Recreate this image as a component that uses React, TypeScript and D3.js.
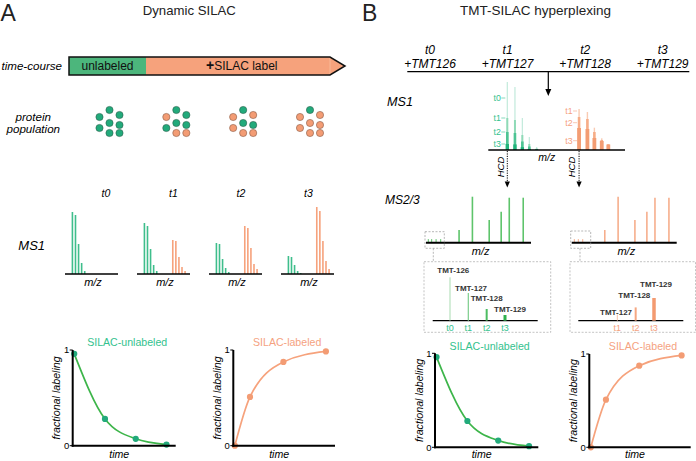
import React from "react";
import * as d3 from "d3";

// ---------------- DATA ----------------
const timePoints = ["t0", "t1", "t2", "t3"];
const tmtTags = ["+TMT126", "+TMT127", "+TMT128", "+TMT129"];
const reporterLabels = ["TMT-126", "TMT-127", "TMT-128", "TMT-129"];
const reporterChannels = [126, 127, 128, 129];

// time-course phases (fraction of the time-course bar)
const phaseNames = ["unlabeled", "SILAC label"];
const phaseBreaks = [0, 0.279, 1];

// protein population: g = unlabeled, o = SILAC labeled (8 proteins per time point)
const populations = ["gggggggg", "goggggoo", "googogoo", "gooooooo"];

// Panel A MS1 spectra (m/z in % of axis, intensity in arbitrary units)
const ms1MzUnlabeled = [14, 19.8, 25.6, 31.4, 37.2];
const ms1MzLabeled = [67.5, 73.3, 79.1, 84.9, 90.7];
const ms1Unlabeled = [
  [62, 59, 30, 11, 3],
  [51, 48, 25, 9, 3],
  [31, 30, 15, 6, 2],
  [18, 17, 9, 3, 1],
];
const ms1Labeled = [
  [0, 0, 0, 0, 0],
  [34, 33, 17, 7, 3],
  [48, 46, 26, 10, 5],
  [67, 63, 33, 13, 5],
];

// Panel B hyperplexed MS1
const hyperMzUnlabeled = [13.9, 19.5, 24.9, 30, 35.4];
const hyperMzLabeled = [66.4, 72.5, 77.6, 83, 87.8];
const hyperUnlabeled = [
  [68, 63, 32, 13, 3],
  [32, 30, 15, 6, 1.5],
  [18, 17, 8.5, 3.5, 1],
  [6, 5.6, 2.8, 1.1, 0.4],
];
const hyperLabeled = [
  [41, 38, 22.3, 11.7, 5.7],
  [33, 31, 18, 10, 5.7],
  [22, 21, 12, 9, 5.5],
];
const hyperUnlabeledTicks = [52, 32, 18, 6];
const hyperLabeledTicks = [39, 27.3, 9.3];
const hyperLabeledTimes = ["t1", "t2", "t3"];

// MS2/3 spectra
const ms2Mz = [31.5, 44.2, 60.2, 71.6, 79.3, 92.6];
const ms2Intensity = [12.7, 46, 22.7, 31, 45, 45];
const ms2ReporterMzUnlabeled = [2.2, 5.4, 9.6, 14];
const ms2ReporterMzLabeled = [2.5, 6.3, 10.5];
const ms2ReporterIntensity = [3.6, 3.6, 3.6, 3.6];

// reporter ion zoom
const reporterUnlabeled = [43.4, 27.7, 11.7, 5.7]; // TMT126..129
const reporterLabeled = [6.3, 13.3, 22.7]; // TMT127..129

// kinetics
const kineticTimesUnlabeled = [0, 1, 2, 3];
const kineticUnlabeled = [0.96, 0.28, 0.072, 0.012];
const kineticTimesLabeled = [0, 0.5, 1.6, 3];
const kineticLabeled = [0, 0.51, 0.875, 0.985];

// ---------------- STYLE ----------------
const FONT = "'Liberation Sans', Arial, Helvetica, sans-serif";
const GREEN_BAR = "#3fbe8c";
const GREEN_DOT = "#22aa7b";
const ORANGE = "#f6a27c";
const ORANGE_DOT = "#f39c74";
const GREEN_TEXT = "#33c28e";
const ORANGE_TEXT = "#f5a27f";
const GREEN_CURVE = "#3db54a";
const GREEN_MS2 = "#5ec46b";
const ORANGE_MS2 = "#f6ae8c";
const GREEN_LAYERS = ["#c2eadb", "#8fdab7", "#4dc494", "#20b47b"];
const GREEN_LAYER_W = [1.2, 2, 2.6, 3.4];
const ORANGE_LAYERS = ["#f9cbb3", "#f6ad88", "#f39d74"];
const ORANGE_LAYER_W = [1.4, 2.6, 3.8];
const GREEN_REP = ["#a9dcb2", "#86d194", "#4dbd62", "#2fb04f"];
const GREEN_REP_W = [1, 1.3, 2, 3];
const ORANGE_REP = ["#f7c3aa", "#f5a883", "#f39a70"];
const ORANGE_REP_W = [1, 2, 3.5];

const dotOffsets = [
  [0, -12], [-10, -5], [10, -7], [0, 1], [-10, 6], [10, 3], [0, 11], [10, 11],
];

function Kinetic(props: {
  x0: number; y0: number; w: number; h: number;
  times: number[]; values: number[]; line: string; dot: string;
  title: string; titleColor: string;
}) {
  const { x0, y0, w, h, times, values, line, dot, title, titleColor } = props;
  const x = d3.scaleLinear().domain([-0.05, 3.3]).range([x0, x0 + w]);
  const y = d3.scaleLinear().domain([0, 1]).range([y0, y0 - h]);
  const pts: [number, number][] = values.map((v, i) => [x(times[i]), y(v)]);
  const path = d3.line().curve(d3.curveMonotoneX)(pts) || "";
  return (
    <g>
      <path d={path} fill="none" stroke={line} strokeWidth={1.7} />
      {pts.map((p, i) => (
        <circle key={i} cx={p[0]} cy={p[1]} r={3.1} fill={dot} />
      ))}
      <line x1={x0} y1={y(1)} x2={x0} y2={y0 + 1} stroke="#000" strokeWidth={2} />
      <line x1={x0 - 1} y1={y0} x2={x0 + w} y2={y0} stroke="#000" strokeWidth={2} />
      {[0, 1].map((v) => (
        <g key={v}>
          <line x1={x0 - 3} x2={x0} y1={y(v)} y2={y(v)} stroke="#000" strokeWidth={1} />
          <text x={x0 - 3.5} y={y(v)} dy="0.35em" textAnchor="end" fontSize={9.5} fill="#000">{v}</text>
        </g>
      ))}
      <text x={x0 + w / 2 + 3} y={y0 - h - 7.5} dy="0.35em" textAnchor="middle" fontSize={10.6} fill={titleColor}>{title}</text>
      <text transform={`translate(${x0 - 16},${y0 - h / 2}) rotate(-90)`} dy="0.35em" textAnchor="middle" fontSize={10.7} fontStyle="italic">fractional labeling</text>
      <text x={x0 + w / 2 - 5} y={Math.min(y0 + 9.5, 454.5)} dy="0.35em" textAnchor="middle" fontSize={10.6} fontStyle="italic">time</text>
    </g>
  );
}

function PanelA() {
  const tc = d3.scaleLinear().domain([0, 1]).range([69, 345]);
  const tcTop = 57, tcBot = 75, tip = 15;
  const tcMid = (tcTop + tcBot) / 2;
  const cluster = d3.scaleLinear().domain([0, 3]).range([109.5, 310]);
  const spec = d3.scaleLinear().domain([0, 3]).range([65, 281]);
  const tLab = d3.scaleLinear().domain([0, 3]).range([106, 308.5]);
  const specW = 53;
  const yMs = d3.scaleLinear().domain([0, 70]).range([274, 204]);

  return (
    <g>
      <text x={0.5} y={21} fontSize={23} fill="#222">A</text>
      <text x={189.3} y={15} textAnchor="middle" fontSize={13.2} fill="#222">Dynamic SILAC</text>

      {/* time-course bar */}
      <text x={62} y={tcMid} dy="0.35em" textAnchor="end" fontSize={11.6} fontStyle="italic">time-course</text>
      <polygon
        points={`${tc(0)},${tcTop} ${tc(1) - tip},${tcTop} ${tc(1)},${tcMid} ${tc(1) - tip},${tcBot} ${tc(0)},${tcBot}`}
        fill={ORANGE}
      />
      <rect x={tc(phaseBreaks[0])} y={tcTop} width={tc(phaseBreaks[1]) - tc(phaseBreaks[0])} height={tcBot - tcTop} fill="#4cb67c" />
      <line x1={tc(1) - tip} x2={tc(1) - tip} y1={tcTop + 1} y2={tcBot - 1} stroke="#f8b896" strokeWidth={1} />
      <polygon
        points={`${tc(0)},${tcTop} ${tc(1) - tip},${tcTop} ${tc(1)},${tcMid} ${tc(1) - tip},${tcBot} ${tc(0)},${tcBot}`}
        fill="none" stroke="#111" strokeWidth={1.5}
      />
      <text x={(tc(phaseBreaks[0]) + tc(phaseBreaks[1])) / 2} y={tcMid} dy="0.36em" textAnchor="middle" fontSize={12} fill="#111">{phaseNames[0]}</text>
      <text x={(tc(phaseBreaks[1]) + tc(phaseBreaks[2]) - tip / 2) / 2} y={tcMid} dy="0.36em" textAnchor="middle" fontSize={12} fill="#111">
        <tspan fontWeight="bold" fontSize={14}>+</tspan>{phaseNames[1]}
      </text>

      {/* protein population */}
      <text x={33.3} y={117.3} dy="0.35em" textAnchor="middle" fontSize={11.6} fontStyle="italic">protein</text>
      <text x={33.3} y={128.8} dy="0.35em" textAnchor="middle" fontSize={11.6} fontStyle="italic">population</text>
      {populations.map((pop, ci) => (
        <g key={ci}>
          {pop.split("").map((s, di) => (
            <circle key={di} cx={cluster(ci) + dotOffsets[di][0]} cy={122 + dotOffsets[di][1]} r={3.6}
              fill={s === "g" ? GREEN_DOT : ORANGE_DOT} stroke={s === "g" ? "#2a5f4c" : "#8a5a44"} strokeWidth={0.6} />
          ))}
        </g>
      ))}

      {/* MS1 spectra */}
      <text x={18.3} y={245} dy="0.35em" fontSize={13} fontStyle="italic">MS1</text>
      {timePoints.map((t, i) => {
        const x0 = spec(i);
        const mz = d3.scaleLinear().domain([0, 100]).range([x0, x0 + specW]);
        return (
          <g key={t}>
            <text x={tLab(i)} y={193} dy="0.35em" textAnchor="middle" fontSize={10.5} fontStyle="italic">{t}</text>
            {ms1Unlabeled[i].map((v, k) => v > 0 && (
              <rect key={"g" + k} x={mz(ms1MzUnlabeled[k]) - 0.8} y={yMs(v)} width={1.6} height={yMs(0) - yMs(v)} fill={GREEN_BAR} />
            ))}
            {ms1Labeled[i].map((v, k) => v > 0 && (
              <rect key={"o" + k} x={mz(ms1MzLabeled[k]) - 0.8} y={yMs(v)} width={1.6} height={yMs(0) - yMs(v)} fill={ORANGE} />
            ))}
            <line x1={x0} x2={x0 + specW} y1={yMs(0)} y2={yMs(0)} stroke="#000" strokeWidth={1.6} />
            <text x={x0 + specW / 2 + 1.5} y={282.5} dy="0.35em" textAnchor="middle" fontSize={11} fontStyle="italic">m/z</text>
          </g>
        );
      })}

      <Kinetic x0={72.7} y0={445.7} w={103} h={95.7} times={kineticTimesUnlabeled} values={kineticUnlabeled}
        line={GREEN_CURVE} dot={GREEN_DOT} title="SILAC-unlabeled" titleColor={GREEN_TEXT} />
      <Kinetic x0={233.3} y0={445.7} w={101.7} h={95.7} times={kineticTimesLabeled} values={kineticLabeled}
        line={ORANGE} dot={ORANGE_DOT} title="SILAC-labeled" titleColor={ORANGE_TEXT} />
    </g>
  );
}

function PanelB() {
  const tl = d3.scaleLinear().domain([0, 3]).range([430, 662.7]);
  const tlX0 = 407.3, tlX1 = 689.3, tlY = 71.7;
  const arrowX = (tlX0 + tlX1) / 2;

  // hyperplexed MS1
  const hx = d3.scaleLinear().domain([0, 100]).range([488.3, 625]);
  const hy = d3.scaleLinear().domain([0, 70]).range([150, 80]);

  // MS2
  const ms2Y = d3.scaleLinear().domain([0, 50]).range([242.7, 192.7]);
  const ms2Defs = [
    { x0: 426, color: GREEN_MS2, rep: ms2ReporterMzUnlabeled, box: [425, 231.7, 444.3, 248.3], conn: 433.3 },
    { x0: 571.7, color: ORANGE_MS2, rep: ms2ReporterMzLabeled, box: [570.7, 231, 590.7, 248.3], conn: 580 },
  ];

  // reporter zoom boxes
  const repY = d3.scaleLinear().domain([0, 50]).range([320.7, 270.7]);
  const gRep = d3.scaleLinear().domain([126, 129]).range([450, 505]);
  const oRep = d3.scaleLinear().domain([126, 129]).range([599, 654]);
  const gLabelDx = [-12.7, -13.3, -16, -11];
  const gLabelDy = [-7.3, -5, -10.5, -6];
  const oLabelDx = [-17.3, -17.4, -14];
  const oLabelDy = [-1.8, -12.4, -13.7];

  return (
    <g>
      <text x={362} y={21} fontSize={23} fill="#222">B</text>
      <text x={535.5} y={15} textAnchor="middle" fontSize={13.5} fill="#222">TMT-SILAC hyperplexing</text>

      {/* timeline */}
      {timePoints.map((t, i) => (
        <g key={t}>
          <text x={tl(i)} y={50} dy="0.35em" textAnchor="middle" fontSize={12} fontStyle="italic">{t}</text>
          <text x={tl(i)} y={63.3} dy="0.35em" textAnchor="middle" fontSize={12} fontStyle="italic">{tmtTags[i]}</text>
        </g>
      ))}
      <line x1={tlX0} x2={tlX1} y1={tlY} y2={tlY} stroke="#000" strokeWidth={1.3} />
      <line x1={arrowX} x2={arrowX} y1={tlY} y2={90} stroke="#000" strokeWidth={1.2} />
      <polygon points={`${arrowX - 3},${89} ${arrowX + 3},${89} ${arrowX},${96}`} fill="#000" />

      {/* MS1 hyperplexed */}
      <text x={387} y={101.7} dy="0.35em" fontSize={12.6} fontStyle="italic">MS1</text>
      {hyperUnlabeled.map((layer, li) => (
        <g key={"hg" + li}>
          {layer.map((v, k) => (
            <rect key={k} x={hx(hyperMzUnlabeled[k]) - GREEN_LAYER_W[li] / 2} y={hy(v)} width={GREEN_LAYER_W[li]} height={hy(0) - hy(v)} fill={GREEN_LAYERS[li]} />
          ))}
        </g>
      ))}
      {hyperLabeled.map((layer, li) => (
        <g key={"ho" + li}>
          {layer.map((v, k) => (
            <rect key={k} x={hx(hyperMzLabeled[k]) - ORANGE_LAYER_W[li] / 2} y={hy(v)} width={ORANGE_LAYER_W[li]} height={hy(0) - hy(v)} fill={ORANGE_LAYERS[li]} />
          ))}
        </g>
      ))}
      {timePoints.map((t, i) => {
        const px = hx(hyperMzUnlabeled[0]);
        return (
          <g key={"gl" + t}>
            <line x1={px - 6} x2={px - 2} y1={hy(hyperUnlabeledTicks[i])} y2={hy(hyperUnlabeledTicks[i])} stroke={GREEN_TEXT} strokeWidth={0.6} />
            <text x={px - 6.5} y={hy(hyperUnlabeledTicks[i])} dy="0.35em" textAnchor="end" fontSize={8.8} fill={GREEN_TEXT}>{t}</text>
          </g>
        );
      })}
      {hyperLabeledTimes.map((t, i) => {
        const px = hx(hyperMzLabeled[0]);
        return (
          <g key={"ol" + t}>
            <line x1={px - 6} x2={px - 2} y1={hy(hyperLabeledTicks[i])} y2={hy(hyperLabeledTicks[i])} stroke={ORANGE_TEXT} strokeWidth={0.6} />
            <text x={px - 6.5} y={hy(hyperLabeledTicks[i])} dy="0.35em" textAnchor="end" fontSize={8.8} fill={ORANGE_TEXT}>{t}</text>
          </g>
        );
      })}
      <line x1={hx(0)} x2={hx(100)} y1={hy(0)} y2={hy(0)} stroke="#000" strokeWidth={1.6} />
      <text x={546.7} y={157} dy="0.35em" textAnchor="middle" fontSize={10.5} fontStyle="italic">m/z</text>
      {[hx(hyperMzUnlabeled[0]), hx(hyperMzLabeled[0])].map((px, i) => (
        <g key={"hcd" + i}>
          <line x1={px} x2={px} y1={151} y2={182} stroke="#000" strokeWidth={1} strokeDasharray="1.2,1.2" />
          <polygon points={`${px - 2.6},${181.5} ${px + 2.6},${181.5} ${px},${187.5}`} fill="#000" />
          <text transform={`translate(${px - 7},${167}) rotate(-90)`} dy="0.35em" textAnchor="middle" fontSize={9.5} fontStyle="italic">HCD</text>
        </g>
      ))}

      {/* MS2/3 */}
      <text x={385} y={199.3} dy="0.35em" fontSize={12} fontStyle="italic">MS2/3</text>
      {ms2Defs.map((d, si) => {
        const mz = d3.scaleLinear().domain([0, 100]).range([d.x0, d.x0 + 105]);
        return (
          <g key={"ms2" + si}>
            {ms2Mz.map((m, k) => (
              <line key={k} x1={mz(m)} x2={mz(m)} y1={ms2Y(0)} y2={ms2Y(ms2Intensity[k])} stroke={d.color} strokeWidth={1.6} />
            ))}
            {d.rep.map((m, k) => (
              <line key={"r" + k} x1={mz(m)} x2={mz(m)} y1={ms2Y(0)} y2={ms2Y(ms2ReporterIntensity[k])} stroke={d.color} strokeWidth={1} />
            ))}
            <line x1={mz(0)} x2={mz(100)} y1={ms2Y(0)} y2={ms2Y(0)} stroke="#000" strokeWidth={2} />
            <text x={mz(52)} y={251} dy="0.35em" textAnchor="middle" fontSize={11} fontStyle="italic">m/z</text>
            <rect x={d.box[0]} y={d.box[1]} width={d.box[2] - d.box[0]} height={d.box[3] - d.box[1]} fill="none" stroke="#999" strokeWidth={0.7} strokeDasharray="2,1.5" />
            <line x1={d.conn} x2={d.conn} y1={d.box[3]} y2={261.7} stroke="#999" strokeWidth={0.7} strokeDasharray="2,1.5" />
          </g>
        );
      })}

      {/* reporter zoom boxes */}
      <rect x={424} y={261.7} width={126.7} height={70.6} fill="none" stroke="#aaa" strokeWidth={0.7} strokeDasharray="2,1.5" />
      <rect x={570} y={261.7} width={125.5} height={70.6} fill="none" stroke="#aaa" strokeWidth={0.7} strokeDasharray="2,1.5" />
      <line x1={432.7} x2={537.7} y1={repY(0)} y2={repY(0)} stroke="#000" strokeWidth={1.2} />
      <line x1={578.3} x2={683.3} y1={repY(0)} y2={repY(0)} stroke="#000" strokeWidth={1.2} />
      {reporterUnlabeled.map((v, i) => (
        <g key={"gr" + i}>
          <rect x={gRep(reporterChannels[i]) - GREEN_REP_W[i] / 2} y={repY(v)} width={GREEN_REP_W[i]} height={repY(0) - repY(v)} fill={GREEN_REP[i]} />
          <text x={gRep(reporterChannels[i]) + gLabelDx[i]} y={repY(v) + gLabelDy[i]} dy="0.35em" fontSize={8} fontWeight="bold" fill="#333">{reporterLabels[i]}</text>
          <text x={gRep(reporterChannels[i])} y={327.7} dy="0.35em" textAnchor="middle" fontSize={9} fill={GREEN_TEXT}>{timePoints[i]}</text>
        </g>
      ))}
      {reporterLabeled.map((v, i) => (
        <g key={"or" + i}>
          <rect x={oRep(reporterChannels[i + 1]) - ORANGE_REP_W[i] / 2} y={repY(v)} width={ORANGE_REP_W[i]} height={repY(0) - repY(v)} fill={ORANGE_REP[i]} />
          <text x={oRep(reporterChannels[i + 1]) + oLabelDx[i]} y={repY(v) + oLabelDy[i]} dy="0.35em" fontSize={8} fontWeight="bold" fill="#333">{reporterLabels[i + 1]}</text>
          <text x={oRep(reporterChannels[i + 1])} y={327.7} dy="0.35em" textAnchor="middle" fontSize={9} fill={ORANGE_TEXT}>{timePoints[i + 1]}</text>
        </g>
      ))}

      <Kinetic x0={435} y0={447.3} w={103.3} h={94} times={kineticTimesUnlabeled} values={kineticUnlabeled}
        line={GREEN_CURVE} dot={GREEN_DOT} title="SILAC-unlabeled" titleColor={GREEN_TEXT} />
      <Kinetic x0={589.3} y0={447.3} w={101.4} h={93.3} times={kineticTimesLabeled} values={kineticLabeled}
        line={ORANGE} dot={ORANGE_DOT} title="SILAC-labeled" titleColor={ORANGE_TEXT} />
    </g>
  );
}

export default function App() {
  return (
    <svg width={696} height={461} viewBox="0 0 696 461" fontFamily={FONT}
      style={{ position: "absolute", left: 0, top: 0, background: "#fff" }}>
      <rect width={696} height={461} fill="#fff" />
      <PanelA />
      <PanelB />
    </svg>
  );
}
